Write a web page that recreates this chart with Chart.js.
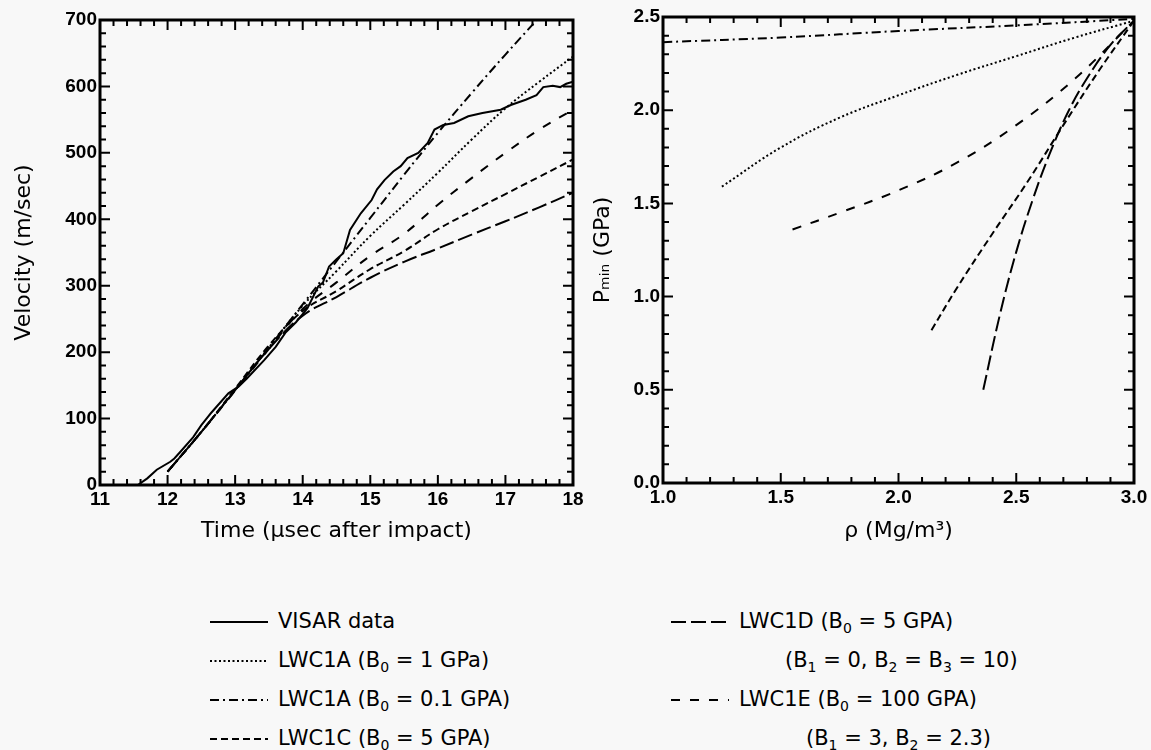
<!DOCTYPE html>
<html>
<head>
<meta charset="utf-8">
<script src="https://cdn.jsdelivr.net/npm/chart.js@4.4.0/dist/chart.umd.min.js"></script>
<style>
  html, body { margin: 0; padding: 0; background: #f8f8f8; }
  body { width: 1151px; height: 750px; position: relative; overflow: hidden;
         font-family: "DejaVu Sans", sans-serif; color: #000; }
  #leftWrap { position: absolute; left: 0; top: 0; width: 600px; height: 560px; }
  #rightWrap { position: absolute; left: 560px; top: 0; width: 591px; height: 560px; }
  .row { position: absolute; height: 30px; line-height: 30px; font-size: 21px; white-space: nowrap; }
  .row svg { vertical-align: middle; margin-right: 10px; }
  sub { font-size: 14px; vertical-align: -5px; line-height: 0; }
</style>
</head>
<body>
<div id="leftWrap"><canvas id="velocityChart" width="600" height="560"></canvas></div>
<div id="rightWrap"><canvas id="pressureChart" width="591" height="560"></canvas></div>

<div class="row" style="left:210px; top:606px;"><svg width="58" height="10"><line x1="0" y1="5" x2="58" y2="5" stroke="#000" stroke-width="2"/></svg>VISAR data</div>
<div class="row" style="left:210px; top:645px;"><svg width="58" height="10"><line x1="0" y1="5" x2="58" y2="5" stroke="#000" stroke-width="2" stroke-dasharray="2 2.5"/></svg>LWC1A (B<sub>0</sub> = 1 GPa)</div>
<div class="row" style="left:210px; top:684px;"><svg width="58" height="10"><line x1="0" y1="5" x2="58" y2="5" stroke="#000" stroke-width="2" stroke-dasharray="9 4 2 4"/></svg>LWC1A (B<sub>0</sub> = 0.1 GPA)</div>
<div class="row" style="left:210px; top:723px;"><svg width="58" height="10"><line x1="0" y1="5" x2="58" y2="5" stroke="#000" stroke-width="2" stroke-dasharray="7 4"/></svg>LWC1C (B<sub>0</sub> = 5 GPA)</div>

<div class="row" style="left:671px; top:606px;"><svg width="58" height="10"><line x1="0" y1="5" x2="58" y2="5" stroke="#000" stroke-width="2" stroke-dasharray="15 5"/></svg>LWC1D (B<sub>0</sub> = 5 GPA)</div>
<div class="row" style="left:785px; top:645px;">(B<sub>1</sub> = 0, B<sub>2</sub> = B<sub>3</sub> = 10)</div>
<div class="row" style="left:671px; top:684px;"><svg width="58" height="10"><line x1="0" y1="5" x2="58" y2="5" stroke="#000" stroke-width="2" stroke-dasharray="9 10"/></svg>LWC1E (B<sub>0</sub> = 100 GPA)</div>
<div class="row" style="left:806px; top:723px;">(B<sub>1</sub> = 3, B<sub>2</sub> = 2.3)</div>

<script>
// ---- left panel: velocity history ----
const visarTime = [11.56, 11.7, 11.84, 12.04, 12.1, 12.19, 12.38, 12.5, 12.6, 12.64, 12.9, 13.05, 13.17, 13.43, 13.6, 13.75, 13.9, 14.07, 14.23, 14.3, 14.39, 14.5, 14.6, 14.7, 14.86, 15.02, 15.1, 15.21, 15.34, 15.45, 15.55, 15.71, 15.85, 15.95, 16.08, 16.24, 16.45, 16.66, 16.93, 17.08, 17.3, 17.46, 17.56, 17.7, 17.81, 17.9, 18.0];
const visarVel  = [0, 10, 23, 35, 40, 50, 72, 90, 103, 108, 138, 148, 160, 188, 208, 230, 245, 266, 299, 305, 329, 340, 349, 384, 409, 429, 445, 459, 472, 480, 492, 500, 515, 535, 542, 545, 555, 560, 565, 572, 580, 587, 599, 601, 599, 604, 607];

const modelTime = [12.0, 12.5, 13.0, 13.5, 14.0, 14.5, 15.0, 15.5, 16.0, 16.5, 17.0, 17.5, 18.0];
const vel1A_1   = [20, 80, 143, 207, 270, 322, 375, 422, 470, 520, 567, 607, 645];
const vel1A_01  = [20, 80, 143, 207, 272, 337, 402, 467, 530, 590, 648, 704, 760];
const vel1C     = [20, 80, 145, 210, 262, 292, 325, 352, 385, 412, 438, 464, 490];
const vel1D     = [20, 80, 143, 205, 255, 283, 312, 336, 356, 377, 397, 418, 440];
const vel1E     = [20, 80, 142, 205, 265, 305, 345, 378, 422, 462, 500, 535, 565];

// ---- right panel: Pmin vs density ----
const rho1A_01 = [1.0, 1.5, 2.0, 2.5, 3.0];
const p1A_01   = [2.365, 2.39, 2.425, 2.455, 2.49];
const rho1A_1  = [1.25, 1.5, 1.75, 2.0, 2.25, 2.5, 2.75, 3.0];
const p1A_1    = [1.59, 1.80, 1.96, 2.08, 2.19, 2.29, 2.39, 2.48];
const rho1E    = [1.55, 1.75, 2.0, 2.25, 2.5, 2.75, 3.0];
const p1E      = [1.36, 1.45, 1.57, 1.72, 1.92, 2.17, 2.48];
const rho1C    = [2.14, 2.25, 2.4, 2.55, 2.7, 2.85, 3.0];
const p1C      = [0.82, 1.05, 1.34, 1.62, 1.92, 2.21, 2.48];
const rho1D    = [2.36, 2.43, 2.5, 2.57, 2.64, 2.72, 2.8, 2.9, 3.0];
const p1D      = [0.5, 0.9, 1.24, 1.52, 1.76, 1.99, 2.17, 2.35, 2.48];

const pairs = (xs, ys) => xs.map((x, i) => ({ x: x, y: ys[i] }));

const dashes = {
    solid: [],
    dotted: [2, 2.5],
    dashDot: [9, 4, 2, 4],
    shortDash: [7, 4],
    longDash: [15, 5],
    spacedDash: [9, 10]
};

function curve(label, data, dash, smooth) {
    return {
        label: label,
        data: data,
        borderColor: '#000',
        borderWidth: 2,
        borderDash: dash,
        pointRadius: 0,
        fill: false,
        tension: smooth ? 0.4 : 0
    };
}

// inward ticks on all four sides plus a heavy frame, placed with the chart's scales
const frameTicks = {
    id: 'frameTicks',
    afterDatasetsDraw(chart, args, opts) {
        const { ctx, chartArea: a, scales: { x, y } } = chart;
        ctx.save();
        ctx.strokeStyle = '#000';
        ctx.lineWidth = 2;
        ctx.beginPath();
        const nx = Math.round((x.max - x.min) / opts.xMinor);
        for (let i = 0; i <= nx; i++) {
            const v = x.min + i * opts.xMinor;
            const r = v / opts.xMajor;
            const len = Math.abs(r - Math.round(r)) < 1e-6 ? 10 : 6;
            const px = x.getPixelForValue(v);
            ctx.moveTo(px, a.bottom); ctx.lineTo(px, a.bottom - len);
            ctx.moveTo(px, a.top); ctx.lineTo(px, a.top + len);
        }
        const ny = Math.round((y.max - y.min) / opts.yMinor);
        for (let i = 0; i <= ny; i++) {
            const v = y.min + i * opts.yMinor;
            const r = v / opts.yMajor;
            const len = Math.abs(r - Math.round(r)) < 1e-6 ? 10 : 6;
            const py = y.getPixelForValue(v);
            ctx.moveTo(a.left, py); ctx.lineTo(a.left + len, py);
            ctx.moveTo(a.right, py); ctx.lineTo(a.right - len, py);
        }
        ctx.stroke();
        ctx.lineWidth = 3;
        ctx.strokeRect(a.left, a.top, a.right - a.left, a.bottom - a.top);
        ctx.restore();
    }
};

const tickFont = { family: '"Liberation Sans", Arial, sans-serif', size: 19, weight: 'bold' };
const titleFont = { family: '"DejaVu Sans", sans-serif', size: 22 };

function axis(min, max, step, fmt, fit, title, titlePad) {
    return {
        type: 'linear',
        min: min,
        max: max,
        grid: { display: false, drawTicks: false },
        border: { display: false },
        ticks: { stepSize: step, color: '#000', font: tickFont, callback: fmt },
        title: { display: true, text: title, color: '#000', font: titleFont, padding: titlePad },
        afterFit: fit
    };
}

new Chart(document.getElementById('velocityChart'), {
    type: 'line',
    data: {
        datasets: [
            curve('VISAR data', pairs(visarTime, visarVel), dashes.solid, false),
            curve('LWC1A (B0 = 1 GPa)', pairs(modelTime, vel1A_1), dashes.dotted, true),
            curve('LWC1A (B0 = 0.1 GPA)', pairs(modelTime, vel1A_01), dashes.dashDot, true),
            curve('LWC1C (B0 = 5 GPA)', pairs(modelTime, vel1C), dashes.shortDash, true),
            curve('LWC1D (B0 = 5 GPA)', pairs(modelTime, vel1D), dashes.longDash, true),
            curve('LWC1E (B0 = 100 GPA)', pairs(modelTime, vel1E), dashes.spacedDash, true)
        ]
    },
    options: {
        responsive: false,
        animation: false,
        layout: { padding: { left: 0, top: 20, right: 27, bottom: 0 } },
        plugins: {
            legend: { display: false },
            tooltip: { enabled: false },
            frameTicks: { xMinor: 0.2, xMajor: 1, yMinor: 20, yMajor: 100 }
        },
        scales: {
            x: Object.assign(axis(11, 18, 1, v => v, s => { s.height = 75; },
                'Time (\u03BCsec after impact)', { top: 0, bottom: 16 }), { position: 'bottom' }),
            y: Object.assign(axis(0, 700, 100, v => v, s => { s.width = 100; },
                'Velocity (m/sec)', { top: 11, bottom: 0 }), { position: 'left' })
        }
    },
    plugins: [frameTicks]
});

new Chart(document.getElementById('pressureChart'), {
    type: 'line',
    data: {
        datasets: [
            curve('LWC1A (B0 = 0.1 GPA)', pairs(rho1A_01, p1A_01), dashes.dashDot, true),
            curve('LWC1A (B0 = 1 GPa)', pairs(rho1A_1, p1A_1), dashes.dotted, true),
            curve('LWC1E (B0 = 100 GPA)', pairs(rho1E, p1E), dashes.spacedDash, true),
            curve('LWC1C (B0 = 5 GPA)', pairs(rho1C, p1C), dashes.shortDash, true),
            curve('LWC1D (B0 = 5 GPA)', pairs(rho1D, p1D), dashes.longDash, true)
        ]
    },
    options: {
        responsive: false,
        animation: false,
        layout: { padding: { left: 0, top: 17, right: 17, bottom: 0 } },
        plugins: {
            legend: { display: false },
            tooltip: { enabled: false },
            frameTicks: { xMinor: 0.1, xMajor: 0.5, yMinor: 0.1, yMajor: 0.5 }
        },
        scales: {
            x: Object.assign(axis(1, 3, 0.5, v => v.toFixed(1), s => { s.height = 77; },
                '\u03C1 (Mg/m\u00B3)', { top: 0, bottom: 16 }), { position: 'bottom' }),
            y: Object.assign(axis(0, 2.5, 0.5, v => v.toFixed(1), s => { s.width = 103; },
                'P\u2098\u1D62\u2099 (GPa)', { top: 30, bottom: 0 }), { position: 'left' })
        }
    },
    plugins: [frameTicks]
});
</script>
</body>
</html>
